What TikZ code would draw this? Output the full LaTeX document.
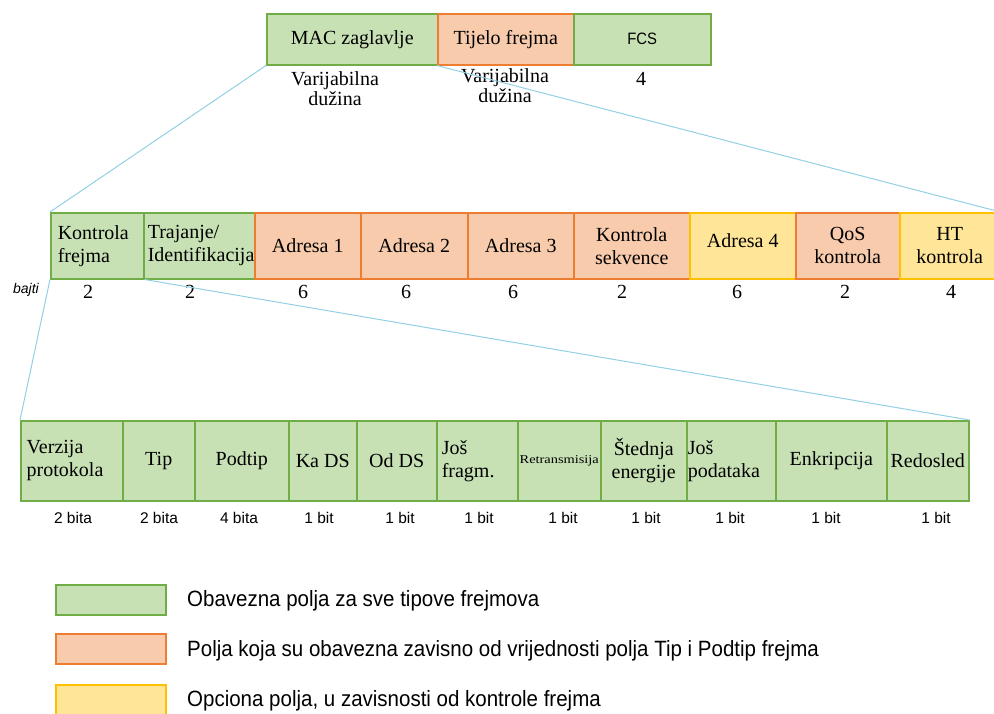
\documentclass[tikz,border=0pt]{standalone}
\usepackage{fontspec}
\setmainfont{Liberation Serif}
\newfontfamily\lsans{Liberation Sans}
\usepackage{graphicx}

\definecolor{gfill}{HTML}{C7E1B5}
\definecolor{gline}{HTML}{70AD47}
\definecolor{ofill}{HTML}{F7CBAC}
\definecolor{oline}{HTML}{ED7D31}
\definecolor{yfill}{HTML}{FFE598}
\definecolor{yline}{HTML}{FFC000}
\definecolor{cline}{HTML}{92D0E4}

\newcommand\bxfont{\fontsize{20}{23}\selectfont}

\tikzset{
  fld/.style={draw, line width=1.5pt, inner sep=0pt, anchor=north west,
              align=center, font=\bxfont},
  req/.style={fld, draw=gline, fill=gfill},
  dep/.style={fld, draw=oline, fill=ofill},
  opt/.style={fld, draw=yline, fill=yfill},
  toprow/.style={minimum height=51},
  midrow/.style={minimum height=66},
  botrow/.style={minimum height=80},
  lefttext/.style={align=left, inner xsep=#1},
  zoomline/.style={draw=cline, line width=1pt},
  size/.style={font=\bxfont, align=center},
  bits/.style={font=\lsans\fontsize{15.5}{18}\selectfont},
  legtext/.style={font=\lsans\fontsize{20.5}{24}\selectfont, anchor=west, inner sep=0pt},
}

\begin{document}
\begin{tikzpicture}[x=1pt, y=-1pt]
\useasboundingbox (0,0) rectangle (994,713);

% ---- frame: header / body / FCS
\node[req, toprow, minimum width=171] (mac) at (266,13) {MAC zaglavlje};
\node[dep, toprow, minimum width=136] (body) at (437,13) {Tijelo frejma};
\node[req, toprow, minimum width=137] (fcs) at (573,13)
  {\lsans\fontsize{16.5}{18}\selectfont\scalebox{0.9}[1]{FCS}};

\node[size, font=\fontsize{20}{20}\selectfont] (macsz) at (335,89) {Varijabilna\\dužina};
\node[size, font=\fontsize{20}{20}\selectfont] (bodysz) at (505,86) {Varijabilna\\dužina};
\node[size] (fcssz) at (641,79) {4};

% ---- MAC header fields
\node[req, midrow, minimum width=93, text width=79, lefttext=7] (kf) at (50,212) {Kontrola\\frejma};
\node[req, midrow, minimum width=111, text width=103, lefttext=4] (dur) at (143,212) {Trajanje/\\Identifikacija};
\node[dep, midrow, minimum width=106] (a1) at (254,212) {Adresa 1};
\node[dep, midrow, minimum width=107] (a2) at (360,212) {Adresa 2};
\node[dep, midrow, minimum width=106] (a3) at (467,212) {Adresa 3};
\node[dep, midrow, minimum width=116] (seq) at (573,212) {Kontrola\\sekvence};
\node[opt, midrow, minimum width=106] (a4) at (689,212) {Adresa 4\\[-12pt]};
\node[dep, midrow, minimum width=104] (qos) at (795,212) {QoS\\kontrola};
\node[opt, midrow, minimum width=100] (ht) at (899,212) {HT\\kontrola};

\node[font=\lsans\itshape\fontsize{14}{16}\selectfont] (unit) at (26,290) {bajti};
\node[size] (s1) at (88,292) {2};
\node[size] (s2) at (190,292) {2};
\node[size] (s3) at (303,292) {6};
\node[size] (s4) at (406,292) {6};
\node[size] (s5) at (513,292) {6};
\node[size] (s6) at (622,292) {2};
\node[size] (s7) at (737,292) {6};
\node[size] (s8) at (845,292) {2};
\node[size] (s9) at (951,292) {4};

% ---- frame control bits
\node[req, botrow, minimum width=102, text width=90, lefttext=6] (ver) at (20,420) {Verzija\\protokola};
\node[req, botrow, minimum width=72] (tip) at (122,420) {Tip};
\node[req, botrow, minimum width=94] (sub) at (194,420) {Podtip};
\node[req, botrow, minimum width=68] (tods) at (288,420) {Ka DS};
\node[req, botrow, minimum width=80] (frds) at (356,420) {Od DS};
\node[req, botrow, minimum width=81, text width=71, lefttext=5] (mf) at (436,420) {Još\\fragm.};
\node[req, botrow, minimum width=83] (rt) at (517,420)
  {\fontsize{12}{14}\selectfont\scalebox{1.2}[1]{Retransmisija}};
\node[req, botrow, minimum width=86] (pm) at (600,420) {Štednja\\energije};
\node[req, botrow, minimum width=89, text width=87, lefttext=1] (md) at (686,420) {Još\\podataka};
\node[req, botrow, minimum width=111] (enc) at (775,420) {Enkripcija};
\node[req, botrow, minimum width=82] (ord) at (886,420) {Redosled};

\node[bits] (b1) at (73,518) {2 bita};
\node[bits] (b2) at (159,518) {2 bita};
\node[bits] (b3) at (239,518) {4 bita};
\node[bits] (b4) at (319,518) {1 bit};
\node[bits] (b5) at (400,518) {1 bit};
\node[bits] (b6) at (479,518) {1 bit};
\node[bits] (b7) at (563,518) {1 bit};
\node[bits] (b8) at (646,518) {1 bit};
\node[bits] (b9) at (730,518) {1 bit};
\node[bits] (b10) at (826,518) {1 bit};
\node[bits] (b11) at (936,518) {1 bit};

% ---- expansion lines
\draw[zoomline] (mac.south west) -- (kf.north west);
\draw[zoomline] (body.south west) -- (ht.north east);
\draw[zoomline] (kf.south west) -- (ver.north west);
\draw[zoomline] (kf.south east) -- (ord.north east);

% ---- legend
\node[req, minimum width=110, minimum height=30] (lgreq) at (55,584) {};
\node[dep, minimum width=110, minimum height=30] (lgdep) at (55,633) {};
\node[opt, minimum width=110, minimum height=32] (lgopt) at (55,684) {};
\node[legtext] (lgreqt) at (187,601) {\scalebox{1}[1.08]{Obavezna polja za sve tipove frejmova}};
\node[legtext] (lgdept) at (187,651) {\scalebox{1}[1.08]{Polja koja su obavezna zavisno od vrijednosti polja Tip i Podtip frejma}};
\node[legtext] (lgoptt) at (187,701) {\scalebox{1}[1.08]{Opciona polja, u zavisnosti od kontrole frejma}};
\end{tikzpicture}
\end{document}
